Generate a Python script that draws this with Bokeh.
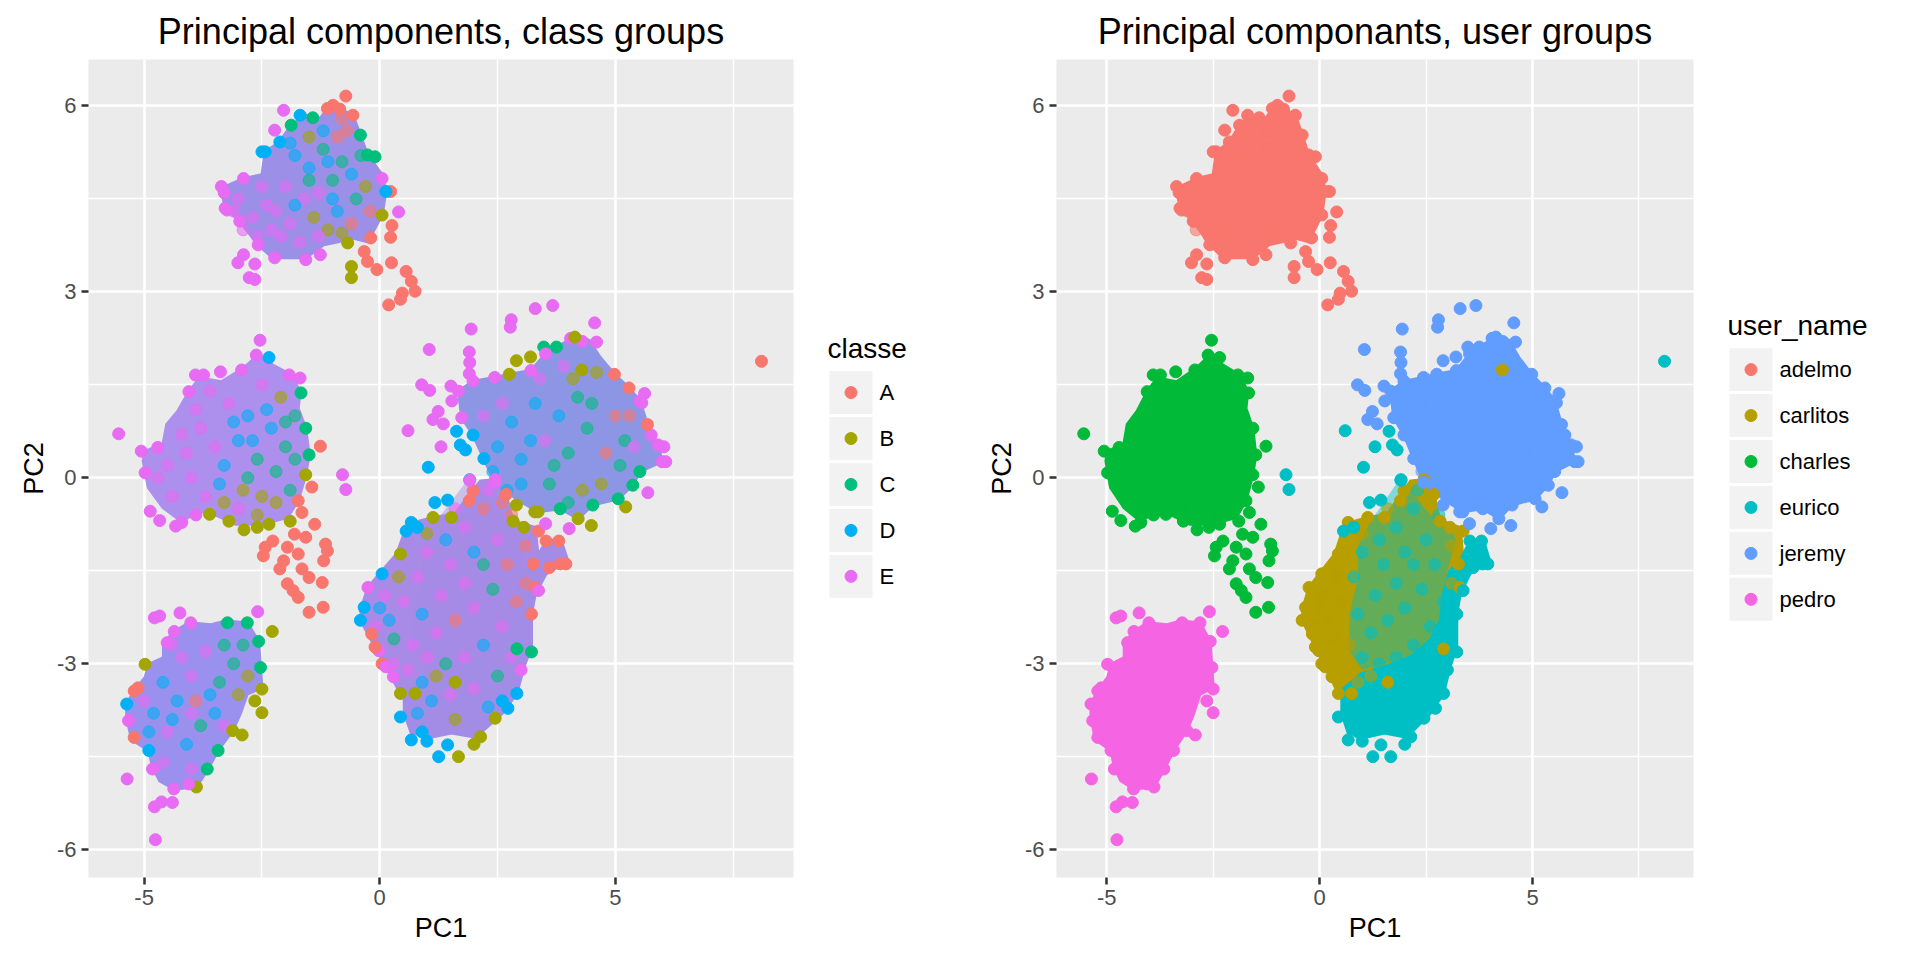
from bokeh.plotting import figure
from bokeh.layouts import row
from bokeh.models import ColumnDataSource, Range1d, FixedTicker
from bokeh.transform import factor_cmap
from bokeh.core.properties import value
from bokeh.embed import file_html
from bokeh.resources import INLINE

FONT = "Liberation Sans"

classes = ["A", "B", "C", "D", "E"]
class_colors = ["#F8766D", "#A3A500", "#00BF7D", "#00B0F6", "#E76BF3"]
users = ["adelmo", "carlitos", "charles", "eurico", "jeremy", "pedro"]
user_colors = ["#F8766D", "#B79F00", "#00BA38", "#00BFC4", "#619CFF", "#F564E3"]

x_ticks = [-5, 0, 5]
y_ticks = [-6, -3, 0, 3, 6]

# dense cores of each user's cloud (PC1, PC2)
adelmo_hull = [(-0.99, 6.01), (-0.57, 5.85), (-0.41, 5.53), (-0.26, 5.21), (0.05, 4.89), (0.13, 4.62),
               (0.05, 4.24), (-0.10, 4.03), (-0.26, 3.81), (-0.57, 3.87), (-0.88, 3.81), (-1.19, 3.76),
               (-1.57, 3.55), (-2.27, 3.55), (-2.58, 3.76), (-2.97, 4.14), (-3.28, 4.35), (-3.36, 4.67),
               (-2.89, 4.83), (-2.50, 4.89), (-2.43, 5.26), (-2.12, 5.42), (-1.88, 5.69), (-1.57, 5.85),
               (-1.26, 5.80), (-1.11, 5.96)]
charles_hull = [(-2.58, 1.98), (-2.27, 1.82), (-1.88, 1.66), (-1.69, 1.39), (-1.73, 1.12), (-1.57, 0.80),
                (-1.50, 0.37), (-1.57, 0.05), (-1.73, -0.37), (-1.96, -0.64), (-2.27, -0.70), (-2.66, -0.75),
                (-3.05, -0.75), (-3.51, -0.59), (-3.82, -0.54), (-4.21, -0.70), (-4.60, -0.48), (-4.91, -0.16),
                (-5.02, 0.27), (-4.98, 0.43), (-4.60, 0.54), (-4.52, 0.86), (-4.29, 1.07), (-4.05, 1.39),
                (-3.82, 1.61), (-3.36, 1.55), (-2.89, 1.77)]
pedro_hull = [(-4.36, -2.48), (-4.05, -2.34), (-3.58, -2.37), (-3.27, -2.31), (-2.81, -2.34), (-2.57, -2.64),
              (-2.53, -3.06), (-2.50, -3.39), (-2.81, -3.49), (-2.96, -3.81), (-3.12, -4.08), (-3.43, -4.40),
              (-3.66, -4.72), (-3.89, -4.99), (-4.36, -5.02), (-4.67, -4.89), (-4.82, -4.67), (-4.90, -4.40),
              (-5.17, -4.27), (-5.29, -4.14), (-5.37, -3.87), (-5.37, -3.65), (-5.21, -3.44), (-4.98, -3.22),
              (-4.90, -3.01), (-4.59, -2.90), (-4.59, -2.69), (-4.43, -2.53)]
jeremy_hull = [(3.75, 2.11), (4.14, 2.27), (4.44, 2.22), (4.68, 1.94), (4.98, 1.67), (5.29, 1.45),
               (5.52, 1.24), (5.68, 0.86), (5.91, 0.53), (5.99, 0.26), (5.52, 0.10), (5.37, -0.12),
               (5.06, -0.34), (4.52, -0.44), (4.21, -0.66), (3.83, -0.50), (3.36, -0.55), (2.90, -0.34),
               (2.44, -0.07), (2.21, 0.31), (1.98, 0.69), (1.74, 0.97), (1.67, 1.40), (1.98, 1.56),
               (2.44, 1.62), (2.75, 1.67), (3.21, 1.73), (3.52, 2.00)]
carlitos_hull = [(2.45, -0.03), (2.68, -0.27), (2.83, -0.70), (3.30, -0.80), (3.37, -1.34), (3.30, -1.87),
                 (2.99, -2.73), (2.60, -3.16), (1.52, -3.21), (0.75, -3.48), (0.44, -3.48), (0.13, -3.05),
                 (-0.10, -2.73), (-0.33, -2.41), (-0.41, -2.14), (-0.25, -1.77), (0.05, -1.50), (0.36, -1.23),
                 (0.59, -0.75), (1.13, -0.64), (1.59, -0.59), (1.91, -0.27), (2.14, -0.05)]
eurico_hull = [(0.52, -3.43), (0.98, -3.16), (1.52, -3.05), (2.14, -2.89), (2.60, -2.62), (2.83, -2.30),
               (2.91, -1.87), (3.06, -1.50), (3.30, -1.34), (3.53, -1.02), (3.84, -0.99), (3.99, -1.34),
               (3.53, -1.55), (3.30, -1.87), (3.22, -2.20), (3.22, -2.73), (3.06, -3.05), (2.91, -3.48),
               (2.60, -3.80), (2.21, -4.07), (1.98, -4.18), (1.52, -4.12), (1.13, -4.18), (0.67, -4.12),
               (0.52, -3.80)]
# part of eurico's cloud that lies over carlitos
eurico_overlap = [(1.90, 0.00), (2.60, -0.60), (3.00, -0.70), (3.20, -1.00), (3.00, -1.50), (2.90, -2.30),
                  (2.60, -2.70), (2.10, -2.90), (1.50, -3.00), (1.00, -3.10), (0.70, -2.80), (0.70, -2.20),
                  (0.90, -1.60), (0.90, -1.10), (1.20, -0.70), (1.50, -0.40)]

# single observations around the cores: (PC1, PC2, classe)
adelmo_pts = [(-0.72, 6.16, "A"), (-2.04, 5.93, "E"), (-2.23, 5.61, "E"), (-1.69, 5.85, "D"), (-1.42, 5.81, "C"),
              (-2.50, 5.26, "D"), (-3.36, 4.70, "E"), (-3.24, 4.32, "E"), (-2.89, 3.60, "E"), (-3.01, 3.47, "E"),
              (-2.65, 3.45, "E"), (-2.77, 3.23, "E"), (-2.65, 3.20, "E"), (-2.23, 3.55, "E"), (-1.57, 3.52, "E"),
              (-1.26, 3.60, "E"), (-0.68, 3.79, "B"), (-0.60, 3.41, "B"), (-0.60, 3.23, "B"), (-0.26, 3.49, "A"),
              (-0.06, 3.36, "A"), (0.25, 3.47, "A"), (0.23, 4.62, "A"), (0.40, 4.29, "E"), (0.26, 4.07, "A"),
              (0.23, 3.88, "A"), (0.56, 3.33, "A"), (0.67, 3.17, "A"), (0.75, 3.01, "A"), (0.48, 2.98, "A"),
              (0.44, 2.88, "A"), (0.19, 2.79, "A"), (-0.10, 5.18, "C"), (0.05, 4.83, "E"), (-0.19, 3.87, "A"),
              (-0.33, 3.65, "A"), (-0.99, 6.01, "A"), (-0.57, 5.85, "A"), (-0.85, 5.95, "A"), (-0.41, 5.53, "C"),
              (-0.26, 5.21, "C"), (0.13, 4.62, "D"), (0.05, 4.24, "B"), (-2.58, 3.76, "E"), (-2.97, 4.14, "E"),
              (-3.28, 4.35, "E"), (-3.30, 4.60, "E"), (-2.89, 4.83, "E"), (-2.43, 5.26, "D"), (-2.12, 5.42, "D"),
              (-1.88, 5.69, "C"), (-1.11, 5.96, "A")]
charles_pts = [(-2.54, 2.22, "E"), (-2.62, 1.98, "E"), (-2.35, 1.94, "D"), (-3.91, 1.66, "E"), (-3.74, 1.66, "E"),
               (-3.38, 1.71, "E"), (-2.93, 1.74, "E"), (-1.92, 1.66, "E"), (-1.69, 1.61, "E"), (-1.67, 1.37, "C"),
               (-4.05, 1.39, "E"), (-5.54, 0.71, "E"), (-5.06, 0.43, "E"), (-4.71, 0.49, "E"), (-4.98, 0.08, "E"),
               (-4.87, -0.54, "E"), (-4.67, -0.69, "E"), (-4.33, -0.78, "E"), (-1.26, 0.51, "A"), (-1.44, -0.15, "A"),
               (-1.65, -0.56, "A"), (-2.43, -1.12, "A"), (-2.47, -1.26, "A"), (-2.27, -1.02, "A"), (-2.12, -1.47, "A"),
               (-1.81, -0.91, "A"), (-1.57, -0.96, "A"), (-1.38, -0.75, "A"), (-1.15, -1.07, "A"), (-1.11, -1.18, "A"),
               (-1.19, -1.34, "A"), (-1.73, -1.23, "A"), (-1.96, -1.12, "A"), (-1.50, -1.61, "A"), (-1.65, -1.47, "A"),
               (-1.96, -1.71, "A"), (-1.84, -1.82, "A"), (-1.73, -1.93, "A"), (-1.22, -1.69, "A"), (-1.20, -2.09, "A"),
               (-1.50, -2.17, "A"), (-2.04, -1.34, "A"), (-1.90, -0.70, "B"), (-3.61, -0.59, "B"), (-2.88, -0.84, "B"),
               (-2.35, -0.75, "B"), (-3.20, -0.70, "B"), (-2.60, -0.80, "B"), (-3.90, -0.60, "E"), (-4.20, -0.72, "E"),
               (-1.57, 0.80, "C"), (-1.50, 0.37, "C"), (-1.57, 0.05, "B"), (-1.73, -0.37, "A")]
pedro_pts = [(-4.78, -2.26, "E"), (-4.67, -2.23, "E"), (-4.24, -2.18, "E"), (-2.59, -2.16, "E"), (-2.28, -2.48, "B"),
             (-2.50, -3.79, "B"), (-2.65, -3.60, "B"), (-2.50, -3.41, "B"), (-2.92, -4.15, "B"), (-5.36, -4.86, "E"),
             (-4.78, -5.31, "E"), (-4.63, -5.23, "E"), (-4.40, -5.24, "E"), (-4.76, -5.84, "E"), (-3.89, -4.99, "B"),
             (-3.66, -4.70, "C"), (-4.05, -4.94, "E"), (-4.37, -5.02, "E"), (-4.98, -3.01, "B"), (-5.13, -3.39, "A"),
             (-5.33, -3.92, "E"), (-5.21, -4.19, "A"), (-4.82, -4.70, "E"), (-3.23, -2.34, "C"), (-4.01, -2.34, "E"),
             (-4.51, -2.66, "E"), (-2.81, -2.34, "C"), (-2.57, -2.64, "C"), (-2.53, -3.06, "C"), (-5.21, -3.44, "A"),
             (-5.37, -3.65, "D"), (-4.90, -4.40, "D"), (-3.12, -4.08, "B"), (-3.43, -4.40, "C"), (-4.36, -2.48, "E")]
jeremy_pts = [(3.30, 2.73, "E"), (3.67, 2.78, "E"), (2.79, 2.55, "E"), (2.77, 2.43, "E"), (1.94, 2.40, "E"),
              (1.05, 2.07, "E"), (1.90, 2.03, "E"), (1.91, 1.86, "E"), (1.90, 1.68, "E"), (0.89, 1.50, "E"),
              (1.06, 1.41, "E"), (1.51, 1.48, "E"), (1.53, 1.24, "E"), (1.24, 1.07, "E"), (1.13, 0.94, "E"),
              (1.35, 0.87, "E"), (2.90, 1.89, "B"), (3.20, 1.95, "B"), (3.48, 2.11, "C"), (4.56, 2.50, "E"),
              (4.60, 2.19, "E"), (5.62, 1.36, "E"), (5.56, 1.21, "E"), (5.76, 0.69, "E"), (6.03, 0.50, "E"),
              (6.07, 0.26, "E"), (5.69, -0.24, "E"), (5.22, -0.47, "B"), (4.49, -0.77, "B"), (4.02, -0.82, "E"),
              (3.52, -0.74, "E"), (3.29, -0.55, "B"), (2.90, -0.44, "B"), (4.05, 2.25, "E"), (4.30, 2.20, "E"),
              (3.75, 2.11, "C"), (4.14, 2.27, "B"), (4.98, 1.67, "A"), (5.29, 1.45, "A"), (5.52, 1.24, "E"),
              (5.68, 0.86, "A"), (5.91, 0.53, "E"), (5.99, 0.26, "E"), (5.52, 0.10, "C"), (5.37, -0.12, "C"),
              (5.06, -0.34, "C"), (4.52, -0.44, "C"), (4.21, -0.66, "B"), (3.83, -0.50, "C"), (3.36, -0.55, "B"),
              (2.44, -0.07, "E"), (2.21, 0.31, "D"), (1.98, 0.69, "D"), (1.74, 0.97, "E"), (1.67, 1.40, "E"),
              (1.98, 1.56, "E"), (2.44, 1.62, "E"), (2.75, 1.67, "B"), (3.21, 1.73, "E"), (3.52, 2.00, "E")]
carlitos_pts = [(2.45, -0.03, "E"), (2.68, -0.27, "A"), (2.83, -0.70, "B"), (3.06, -0.80, "B"), (3.37, -0.86, "A"),
                (3.26, -1.39, "A"), (3.30, -1.77, "A"), (2.91, -2.76, "C"), (1.98, -0.21, "A"), (1.90, -0.37, "A"),
                (1.52, -0.64, "B"), (0.67, -0.72, "D"), (0.44, -1.23, "B"), (0.05, -1.55, "D"), (-0.25, -1.77, "E"),
                (-0.33, -2.09, "D"), (-0.41, -2.30, "D"), (-0.17, -2.52, "A"), (-0.02, -2.79, "E"), (0.05, -3.00, "A"),
                (0.29, -3.21, "E"), (0.44, -3.48, "B"), (0.75, -3.48, "B"), (4.29, 1.74, "B"), (1.13, -0.64, "B"),
                (0.13, -3.05, "E"), (-0.10, -2.73, "A"), (1.60, -3.30, "B")]
eurico_pts = [(-0.79, 0.05, "E"), (-0.72, -0.19, "E"), (1.03, 0.17, "D"), (1.91, -0.03, "D"), (1.17, -0.40, "D"),
              (1.44, -0.36, "D"), (0.56, -0.86, "D"), (0.80, -0.80, "D"), (3.83, -1.39, "A"), (3.53, -1.02, "A"),
              (3.80, -1.02, "A"), (3.95, -1.39, "A"), (3.60, -1.45, "A"), (3.37, -1.82, "E"), (3.22, -2.81, "C"),
              (3.22, -2.20, "A"), (2.91, -3.48, "D"), (2.72, -3.72, "D"), (2.45, -3.88, "B"), (2.14, -4.18, "B"),
              (1.25, -4.50, "D"), (1.67, -4.50, "B"), (1.44, -4.31, "D"), (0.44, -3.86, "D"), (0.67, -4.23, "D"),
              (0.90, -4.10, "D"), (1.00, -4.25, "D"), (8.10, 1.88, "A"), (0.60, 0.76, "E"), (1.30, 0.50, "E"),
              (1.63, 0.75, "D"), (1.71, 0.53, "D"), (1.82, 0.45, "D"), (1.91, -0.04, "E"), (2.00, -4.30, "B"),
              (3.00, -3.10, "E"), (2.60, -3.60, "D")]

# observations inside the cores, where the classes overlap
adelmo_inner = [(-1.8, 5.2, "D"), (-1.5, 5.0, "D"), (-1.2, 5.3, "C"), (-0.9, 5.5, "A"), (-0.8, 5.8, "A"),
                (-0.7, 5.6, "A"), (-1.0, 4.8, "C"), (-0.6, 4.9, "D"), (-0.5, 4.5, "C"), (-1.3, 4.6, "E"),
                (-1.6, 4.5, "E"), (-2.0, 4.7, "E"), (-2.4, 4.4, "E"), (-2.7, 4.2, "E"), (-1.9, 4.1, "E"),
                (-1.4, 4.2, "B"), (-0.9, 4.3, "D"), (-0.6, 4.1, "A"), (-1.1, 4.0, "B"), (-1.7, 3.8, "E"),
                (-2.1, 3.9, "E"), (-1.2, 5.6, "D"), (-1.5, 5.5, "B"), (-0.4, 5.2, "C"), (-3.0, 4.5, "E"),
                (-2.6, 3.9, "E"), (-2.2, 4.3, "E"), (-2.9, 4.0, "E"), (-3.1, 4.3, "E"), (-2.5, 4.7, "E"),
                (-2.3, 4.0, "E"), (-1.8, 4.4, "D"), (-1.5, 4.8, "C"), (-1.1, 5.1, "D"), (-0.8, 5.1, "C"),
                (-1.9, 5.4, "D"), (-1.0, 4.5, "D"), (-0.3, 4.7, "B"), (-1.3, 3.9, "E"), (-0.8, 3.95, "B"),
                (-0.2, 4.3, "A")]
charles_inner = [(-4.5, 0.2, "E"), (-4.2, 0.7, "E"), (-3.9, 1.1, "E"), (-4.0, 0.0, "E"), (-3.7, -0.3, "E"),
                 (-3.5, 0.5, "E"), (-3.2, 1.2, "E"), (-3.3, 0.2, "D"), (-3.0, 0.6, "D"), (-2.8, 1.0, "D"),
                 (-2.6, 0.3, "C"), (-2.3, 0.8, "D"), (-2.2, 0.1, "C"), (-2.0, 0.5, "C"), (-1.9, -0.2, "C"),
                 (-2.5, -0.3, "B"), (-2.9, -0.2, "B"), (-3.3, -0.4, "B"), (-2.1, 1.3, "B"), (-2.5, 1.5, "E"),
                 (-1.8, 1.0, "C"), (-2.8, 0.0, "C"), (-4.7, 0.0, "E"), (-4.4, -0.3, "E"), (-4.1, 0.4, "E"),
                 (-3.8, 0.8, "E"), (-3.6, 1.4, "E"), (-3.4, -0.1, "D"), (-3.1, 0.9, "D"), (-2.7, 0.6, "D"),
                 (-2.4, 1.1, "D"), (-2.0, 0.9, "C"), (-1.8, 0.3, "C"), (-2.2, -0.4, "B"), (-2.6, -0.6, "B"),
                 (-3.0, -0.5, "E")]
pedro_inner = [(-4.6, -3.3, "D"), (-4.3, -3.6, "D"), (-4.0, -3.2, "E"), (-3.7, -2.8, "E"), (-3.4, -3.3, "C"),
               (-3.1, -3.0, "C"), (-4.8, -3.8, "D"), (-4.5, -4.1, "E"), (-4.1, -4.3, "D"), (-3.8, -4.0, "C"),
               (-4.2, -2.9, "E"), (-3.5, -3.8, "D"), (-4.6, -4.6, "E"), (-3.0, -3.5, "B"), (-3.9, -3.6, "A"),
               (-5.0, -3.6, "E"), (-4.9, -4.1, "D"), (-4.4, -3.9, "D"), (-4.0, -3.8, "E"), (-3.6, -3.5, "D"),
               (-3.3, -2.7, "C"), (-2.9, -2.7, "C"), (-2.8, -3.2, "B"), (-3.3, -4.0, "E"), (-4.0, -4.7, "E"),
               (-4.4, -2.7, "E")]
jeremy_inner = [(2.5, 0.5, "D"), (2.8, 0.9, "D"), (3.0, 0.3, "D"), (3.3, 1.2, "D"), (3.5, 0.6, "E"),
                (3.8, 1.0, "D"), (4.0, 0.4, "C"), (4.2, 1.3, "C"), (4.4, 0.8, "C"), (4.6, 1.7, "B"),
                (4.8, 0.4, "A"), (5.0, 1.0, "A"), (5.2, 0.6, "C"), (3.6, -0.1, "C"), (4.3, -0.2, "B"),
                (3.0, -0.1, "D"), (2.6, 1.2, "E"), (3.9, 1.8, "E"), (2.2, 1.0, "E"), (2.4, 0.1, "D"),
                (2.7, -0.2, "D"), (3.2, 0.6, "D"), (3.4, 1.6, "E"), (3.7, 0.2, "C"), (4.1, 1.6, "B"),
                (4.5, 1.2, "C"), (4.7, -0.1, "B"), (5.1, 0.2, "C"), (5.4, 0.5, "E"), (5.3, 1.0, "A"),
                (4.0, -0.4, "C")]
carlitos_inner = [(0.5, -2.0, "E"), (0.2, -2.3, "D"), (0.7, -2.7, "E"), (0.4, -1.6, "B"), (1.0, -0.9, "B"),
                  (1.2, -3.2, "B"), (0.1, -1.9, "E"), (0.6, -3.1, "E"), (1.6, -0.5, "E"), (0.3, -2.6, "C"),
                  (0.0, -2.1, "D"), (-0.1, -2.4, "E"), (0.3, -3.0, "E"), (0.9, -3.3, "D"), (2.6, -0.4, "A"),
                  (3.1, -1.1, "A"), (3.1, -1.7, "A")]
eurico_inner = [(1.0, -1.2, "E"), (1.4, -1.0, "D"), (1.8, -0.8, "E"), (2.2, -0.5, "A"), (2.5, -1.0, "E"),
                (2.2, -1.4, "C"), (1.8, -1.7, "E"), (1.3, -1.9, "E"), (0.9, -2.2, "D"), (1.2, -2.5, "E"),
                (1.6, -2.3, "A"), (2.0, -2.1, "E"), (2.4, -1.8, "C"), (2.7, -1.4, "A"), (2.6, -2.4, "E"),
                (2.2, -2.7, "D"), (1.8, -2.9, "E"), (1.4, -3.0, "C"), (1.0, -2.9, "E"), (2.9, -2.0, "A"),
                (2.3, -0.2, "E"), (2.0, -1.2, "D"), (1.5, -1.4, "E"), (0.8, -1.6, "E"), (2.8, -0.6, "A"),
                (1.5, -3.5, "E"), (2.0, -3.4, "E"), (2.5, -3.2, "C"), (1.1, -3.6, "D"), (1.6, -3.9, "B"),
                (2.3, -3.7, "D"), (0.8, -3.8, "D"), (2.8, -2.9, "E")]

hulls = {"adelmo": adelmo_hull, "carlitos": carlitos_hull, "charles": charles_hull,
         "eurico": eurico_hull, "jeremy": jeremy_hull, "pedro": pedro_hull}
singles = {"adelmo": adelmo_pts, "carlitos": carlitos_pts, "charles": charles_pts,
           "eurico": eurico_pts, "jeremy": jeremy_pts, "pedro": pedro_pts}
inners = {"adelmo": adelmo_inner, "carlitos": carlitos_inner, "charles": charles_inner,
          "eurico": eurico_inner, "jeremy": jeremy_inner, "pedro": pedro_inner}

# blended look of the overlapping classes inside each core (left panel)
core_mix = {"adelmo": "#9B8FE8", "carlitos": "#A88BE6", "charles": "#AD8FEE",
            "eurico": "#A28CE6", "jeremy": "#8D96E4", "pedro": "#9A91EE"}

TOP, BOTTOM, HEIGHT = 58, 75, 952


def to_source(table):
    rows = [(x, y, c, u) for u in users for (x, y, c) in table[u]]
    return ColumnDataSource(data=dict(pc1=[r[0] for r in rows], pc2=[r[1] for r in rows],
                                      classe=[r[2] for r in rows], user_name=[r[3] for r in rows]))


def panel(title, width, by_class):
    p = figure(width=width, height=HEIGHT, title=title,
               x_range=Range1d(-6.18, 8.78), y_range=Range1d(-6.45, 6.75),
               output_backend="svg", toolbar_location=None,
               min_border_left=88, min_border_right=15, min_border_top=TOP, min_border_bottom=BOTTOM)
    p.background_fill_color = "#EBEBEB"
    p.border_fill_color = "white"
    p.outline_line_color = None

    p.title.text_font = FONT
    p.title.text_font_size = "36px"
    p.title.text_font_style = "normal"
    p.title.text_color = "black"
    p.title.align = "center"
    p.title.standoff = 16

    xt = FixedTicker(ticks=x_ticks, minor_ticks=[-2.5, 2.5, 7.5])
    yt = FixedTicker(ticks=y_ticks, minor_ticks=[-4.5, -1.5, 1.5, 4.5])
    p.xaxis.ticker = xt
    p.yaxis.ticker = yt
    p.xgrid.ticker = xt
    p.ygrid.ticker = yt
    p.xaxis.axis_label = "PC1"
    p.yaxis.axis_label = "PC2"
    p.xaxis.major_label_overrides = {t: str(t) for t in x_ticks}
    p.yaxis.major_label_overrides = {t: str(t) for t in y_ticks}
    for ax in (p.xaxis, p.yaxis):
        ax.axis_line_color = None
        ax.major_tick_line_color = "#333333"
        ax.major_tick_line_width = 2.5
        ax.major_tick_in = 0
        ax.major_tick_out = 7
        ax.minor_tick_line_color = None
        ax.major_label_text_font = FONT
        ax.major_label_text_font_size = "22px"
        ax.major_label_text_color = "#4D4D4D"
        ax.axis_label_text_font = FONT
        ax.axis_label_text_font_size = "27px"
        ax.axis_label_text_font_style = "normal"
        ax.axis_label_text_color = "black"
    p.grid.grid_line_color = "white"
    p.grid.grid_line_width = 2.6
    p.grid.minor_grid_line_color = "white"
    p.grid.minor_grid_line_width = 1.4

    xs = [[v[0] for v in hulls[u]] for u in users]
    ys = [[v[1] for v in hulls[u]] for u in users]
    ox = [v[0] for v in eurico_overlap]
    oy = [v[1] for v in eurico_overlap]
    if by_class:
        fills = [core_mix[u] for u in users]
        over = core_mix["eurico"]
        cmap = factor_cmap("classe", class_colors, classes)
    else:
        fills = user_colors
        over = user_colors[users.index("eurico")]
        cmap = factor_cmap("user_name", user_colors, users)
    p.patches(xs[:4], ys[:4], fill_color=fills[:4], line_color=fills[:4], line_width=3, line_join="round")
    p.patch(ox, oy, fill_color=over, fill_alpha=0.45, line_color=None)
    p.patches(xs[4:], ys[4:], fill_color=fills[4:], line_color=fills[4:], line_width=3, line_join="round")
    p.scatter("pc1", "pc2", source=to_source(inners), size=12, color=cmap, alpha=0.6)
    p.scatter("pc1", "pc2", source=to_source(singles), size=12, color=cmap)
    return p


def key_panel(width, heading, labels, colors):
    # the frame is kept level with the panels' frames; y counts pixels from the top of the page
    lg = figure(width=width, height=HEIGHT, x_range=Range1d(0, width),
                y_range=Range1d(HEIGHT - BOTTOM, TOP),
                x_axis_type=None, y_axis_type=None, output_backend="svg", toolbar_location=None,
                min_border_left=0, min_border_right=0, min_border_top=TOP, min_border_bottom=BOTTOM,
                title=None)
    lg.outline_line_color = None
    lg.background_fill_color = "white"
    lg.border_fill_color = "white"
    n = len(labels)
    first = 467.5 - (n - 1) * 23 + 16
    ys = [first + 46 * i for i in range(n)]
    lg.rect(x=42.5, y=ys, width=43, height=43, fill_color="#F2F2F2", line_color=None)
    lg.scatter(x=[42.5] * n, y=ys, size=12, color=colors)
    lg.text(x=[71] * n, y=ys, text=labels, text_baseline="middle", text_align="left",
            text_font=value(FONT), text_font_size="22px", text_color="black")
    lg.text(x=[19], y=[first - 44], text=[heading], text_baseline="middle", text_align="left",
            text_font=value(FONT), text_font_size="28px", text_color="black")
    return lg


left = panel("Principal components, class groups", 808, True)
left_keys = key_panel(160, "classe", classes, class_colors)
right = panel("Principal componants, user groups", 740, False)
right_keys = key_panel(204, "user_name", users, user_colors)

p = row(left, left_keys, right, right_keys)
open("out.html", "w").write(file_html(p, INLINE))
